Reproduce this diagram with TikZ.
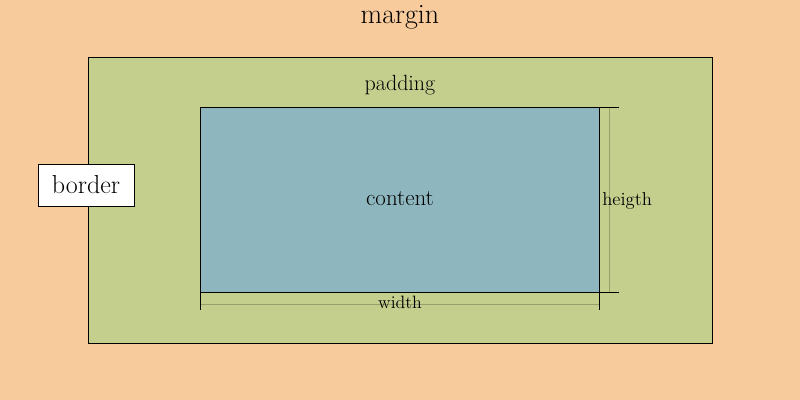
\documentclass[tikz,border=0pt]{standalone}
\begin{document}
\begin{tikzpicture}[x=0.75pt,y=-0.75pt,
  lbl/.style={inner sep=0pt,text=black},
  tick/.style={draw=black,line width=0.7pt},
  dimline/.style={line width=0.75pt}]
\definecolor{marginc}{RGB}{248,203,156}
\definecolor{paddingc}{RGB}{196,207,142}
\definecolor{contentc}{RGB}{142,182,191}
\definecolor{dimc}{RGB}{150,160,105}
\fill[marginc] (0,0) rectangle (800,400);
\useasboundingbox (0,0) rectangle (800,400);
\draw[fill=paddingc,line width=0.6pt] (88,57) rectangle (712,343);
\draw[fill=contentc,line width=0.75pt] (200,107) rectangle (599,292);
\node[lbl,font=\fontsize{21}{24}\selectfont] (margin) at (400,17) {margin};
\node[lbl,font=\fontsize{16.5}{20}\selectfont] (padding) at (400,85) {padding};
\node[lbl,font=\fontsize{17.2}{20}\selectfont] (content) at (400,199) {content};
\node[draw=black,fill=white,line width=0.6pt,minimum width=72pt,minimum height=31.5pt,inner sep=0pt,font=\fontsize{19.5}{22}\selectfont] (border) at (86,185) {border};
% height dimension
\coordinate (ht1) at (599,107); \coordinate (ht2) at (619,107);
\coordinate (hb1) at (599,292); \coordinate (hb2) at (619,292);
\coordinate (hv1) at (609,107); \coordinate (hv2) at (609,292);
\draw[dimline,draw=dimc] (hv1) -- (hv2);
\draw[tick] (ht1) -- (ht2);
\draw[tick] (hb1) -- (hb2);
\node[lbl,anchor=west,font=\fontsize{14}{16}\selectfont] (heigth) at (602,201) {heigth};
% width dimension
\coordinate (wl1) at (200,292); \coordinate (wl2) at (200,310);
\coordinate (wr1) at (599,292); \coordinate (wr2) at (599,310);
\coordinate (wh1) at (200,304); \coordinate (wh2) at (599,304);
\draw[dimline,draw=dimc] (wh1) -- (wh2);
\draw[tick] (wl1) -- (wl2);
\draw[tick] (wr1) -- (wr2);
\node[lbl,font=\fontsize{13.4}{16}\selectfont] (width) at (400,302) {width};
\end{tikzpicture}
\end{document}
